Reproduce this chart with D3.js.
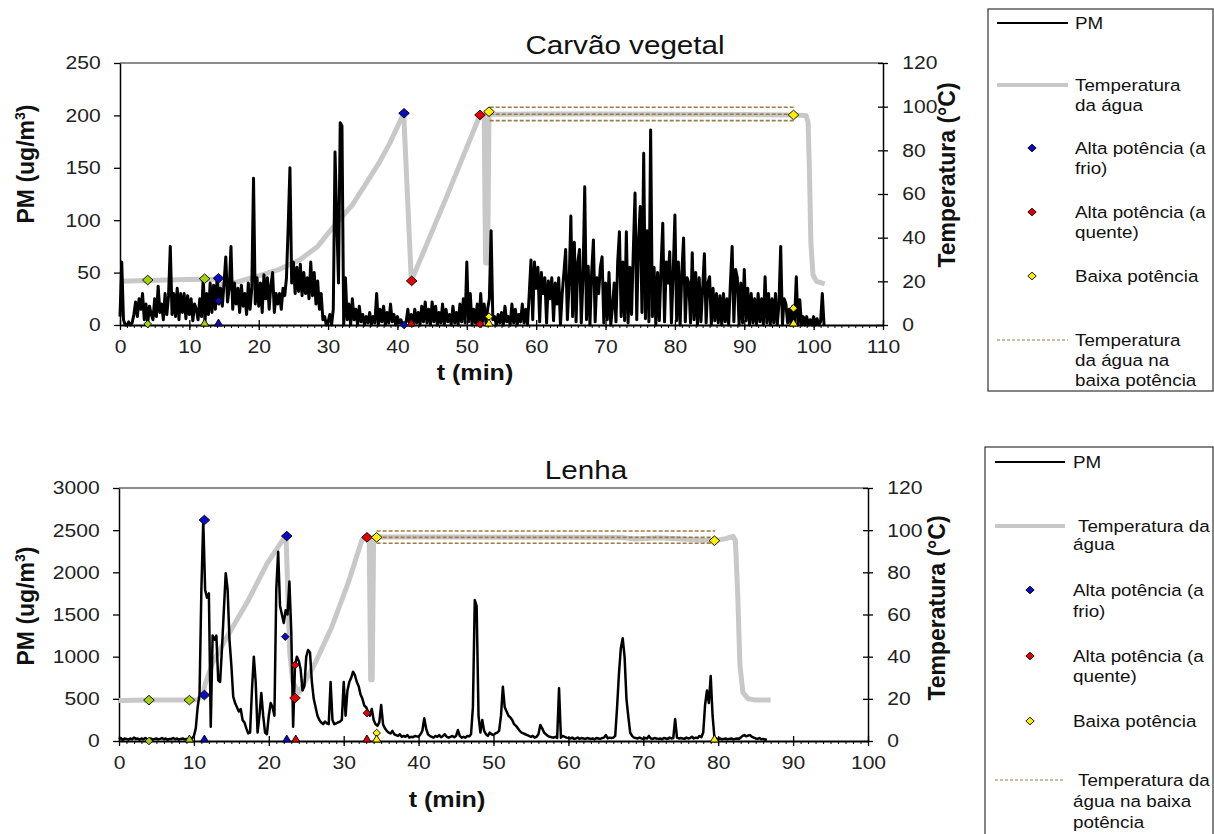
<!DOCTYPE html>
<html>
<head>
<meta charset="utf-8">
<script src="https://cdn.jsdelivr.net/npm/d3@7"></script>
<style>
  body { margin: 0; background: #fff; }
  svg { font-family: "Liberation Sans", Arial, sans-serif; }
</style>
</head>
<body>
<svg id="chart" width="1214" height="834"></svg>
<script>
// ---------------------------------------------------------------------------------------------
// dados
// PM (ug/m3) a cada 0,25 min, começando em t = 0
const pmPasso = 0.25;
const pmCarvao = [
  8, 60, 5, 0, 0, 3, 0, 2,
  10, 22, 8, 25, 15, 30, 5, 20,
  2, 18, 10, 5, 25, 8, 37, 12,
  20, 5, 30, 10, 28, 75, 10, 30,
  8, 35, 5, 30, 12, 30, 6, 28,
  10, 25, 4, 20, 15, 5, 25, 8,
  45, 3, 30, 10, 40, 12, 38, 15,
  45, 20, 35, 18, 40, 65, 22, 35,
  75, 15, 40, 20, 35, 12, 38, 18,
  30, 10, 40, 15, 35, 140, 20, 45,
  18, 40, 12, 48, 25, 45, 15, 38,
  50, 12, 30, 20, 30, 15, 35, 28,
  45, 95, 150, 40, 60, 30, 55, 32,
  58, 28, 50, 30, 45, 25, 60, 28,
  50, 20, 42, 15, 30, 5, 8, 0,
  3, 10, 0, 15, 165, 100, 40, 193,
  190, 0, 45, 5, 20, 0, 25, 5,
  15, 0, 18, 3, 10, 0, 8, 2,
  12, 0, 8, 2, 30, 0, 15, 3,
  18, 0, 12, 2, 20, 3, 10, 0,
  8, 2, 5, 0, 0, 3, 15, 0,
  10, 0, 15, 2, 12, 0, 18, 3,
  22, 2, 15, 0, 22, 3, 18, 0,
  12, 2, 20, 0, 15, 3, 10, 0,
  18, 2, 12, 0, 20, 3, 25, 2,
  60, 3, 30, 0, 15, 2, 20, 0,
  30, 3, 20, 2, 15, 25, 90, 5,
  8, 0, 10, 2, 12, 0, 18, 3,
  8, 0, 20, 2, 15, 0, 10, 3,
  20, 2, 15, 0, 30, 62, 5, 60,
  35, 55, 3, 50, 30, 45, 2, 42,
  25, 45, 4, 40, 20, 45, 0, 30,
  50, 72, 5, 40, 104, 8, 79, 3,
  60, 72, 2, 45, 132, 5, 56, 0,
  50, 81, 3, 45, 30, 55, 65, 2,
  40, 5, 50, 0, 17, 40, 3, 60,
  89, 8, 60, 4, 89, 2, 55, 10,
  70, 126, 5, 80, 113, 12, 164, 6,
  90, 3, 186, 8, 55, 0, 50, 4,
  55, 97, 3, 60, 40, 70, 2, 50,
  105, 4, 60, 0, 50, 83, 3, 45,
  40, 2, 69, 5, 50, 0, 45, 3,
  35, 68, 2, 40, 46, 0, 35, 4,
  30, 2, 28, 0, 30, 3, 25, 0,
  40, 75, 3, 53, 45, 0, 40, 2,
  53, 4, 35, 0, 30, 2, 25, 0,
  30, 3, 25, 0, 46, 2, 30, 0,
  25, 2, 30, 0, 20, 75, 0, 25,
  20, 2, 15, 0, 18, 3, 46, 0,
  24, 0, 8, 0, 8, 0, 5, 0,
  8, 0, 6, 0, 3, 30, 0
];
const pmLenha = [
  20, 35, 10, 30, 25, 15, 30, 20,
  40, 25, 30, 15, 30, 20, 35, 25,
  20, 30, 15, 25, 30, 20, 25, 35,
  20, 30, 15, 25, 25, 35, 20, 30,
  15, 25, 30, 20, 25, 20, 35, 30,
  60, 150, 400, 550, 1800, 2620, 1790, 1700,
  1750, 170, 1250, 1200, 1250, 720, 700, 1100,
  1553, 1990, 1800, 1200, 900, 525, 450, 400,
  350, 380, 250, 220, 150, 90, 100, 600,
  1000, 700, 100, 300, 570, 300, 100, 80,
  300, 450, 400, 300, 1800, 2245, 1600, 1500,
  1400, 1550, 1500, 1890, 1300, 170, 900, 1000,
  950, 850, 600, 650, 1000, 1080, 1050, 700,
  500, 400, 300, 250, 220, 200, 230, 210,
  200, 700, 250, 200, 210, 220, 230, 250,
  700, 300, 600, 700, 750, 822, 780, 700,
  650, 550, 500, 420, 400, 350, 300, 380,
  250, 200, 180, 220, 427, 200, 150, 120,
  100, 90, 120, 80, 70, 60, 80, 50,
  60, 50, 70, 40, 50, 45, 60, 55,
  50, 80, 120, 269, 150, 80, 60, 50,
  40, 60, 50, 70, 45, 60, 80, 50,
  40, 50, 60, 45, 60, 130, 60, 40,
  50, 40, 60, 55, 80, 400, 1672, 1600,
  300, 100, 250, 120, 80, 60, 100, 80,
  70, 90, 100, 120, 300, 644, 400, 350,
  300, 280, 250, 200, 180, 150, 120, 100,
  90, 80, 70, 60, 50, 60, 40, 50,
  80, 190, 150, 100, 80, 60, 50, 45,
  40, 50, 35, 625, 40, 60, 50, 40,
  35, 30, 40, 25, 30, 40, 25, 35,
  30, 25, 35, 30, 25, 30, 20, 35,
  30, 25, 35, 40, 71, 30, 40, 35,
  40, 60, 400, 800, 1100, 1218, 1000, 500,
  288, 100, 60, 40, 35, 30, 40, 30,
  25, 35, 30, 60, 30, 25, 35, 30,
  25, 30, 20, 35, 30, 25, 40, 30,
  35, 260, 40, 30, 35, 30, 25, 40,
  30, 35, 50, 30, 40, 35, 60, 45,
  100, 430, 600, 450, 771, 300, 40, 30,
  25, 30, 20, 25, 30, 20, 25, 30,
  20, 25, 30, 25, 40, 60, 70, 55,
  65, 70, 50, 40, 30, 25, 35, 20,
  25, 15, 20
];
// temperatura da água (°C): [t (min), valor]
const tempCarvao = [
  [0, 20], [4, 20.4], [8, 20.7], [12, 20.9], [14.2, 21], [14.4, 18.3], [16.3, 19.2],
  [20, 22.5], [23, 25.5], [25.9, 29.8], [28.5, 36], [31.2, 46.7], [33.5, 55], [35.5, 65],
  [37.3, 74], [38.9, 83.3], [40.9, 97], [42, 20.2], [47.1, 58.8], [51.9, 96.2],
  [52.5, 96], [52.7, 28.4], [53, 28.4], [53.2, 96.5], [60, 96.6], [70, 96.6], [80, 96.5],
  [90, 96.4], [97.1, 96.2], [98.9, 96], [99.2, 93], [99.4, 70], [99.6, 38], [99.9, 23],
  [100.4, 20], [101.6, 18.8]
];
const tempLenha = [
  [0, 19.2], [4, 19.4], [9.4, 19.4], [10.5, 19.6], [11.2, 22], [11.5, 27], [12.5, 37],
  [14.2, 48], [17.3, 67], [19.8, 84.4], [22.3, 97.6], [22.5, 75], [22.8, 42], [23.2, 28],
  [24, 22.8], [26.2, 37], [28.4, 54], [30.6, 75], [32.4, 95], [33.1, 97.2], [33.4, 97],
  [33.6, 29], [33.8, 29], [34, 96.8], [34.4, 96.8], [45, 96.7], [60, 96.6], [67, 96.5],
  [69, 95.8], [72, 96.4], [79.5, 95], [81, 96], [82, 97], [82.3, 95], [82.6, 70],
  [82.9, 36], [83.3, 23], [84, 20], [85, 19.4], [87, 19.4]
];
// temperatura da água na baixa potência (°C) e intervalo (min)
const baixaNiveisCarvao = [99.7, 96.5, 93.6];
const baixaIntervaloCarvao = [53.3, 97.1];
const baixaNiveisLenha = [99.6, 96.6, 93.8];
const baixaIntervaloLenha = [34.4, 79.6];
// marcadores na curva de temperatura: [t, °C, série]
const marcasTempCarvao = [
  [4, 20.6, 'verde'], [12.2, 21.2, 'verde'], [14.2, 21.4, 'azul'], [40.95, 97, 'azul'],
  [42.05, 20.2, 'vermelho'], [51.9, 96.2, 'vermelho'], [53.2, 97.7, 'amarelo'], [97.1, 96.2, 'amarelo']
];
const marcasTempLenha = [
  [4, 19.4, 'verde'], [9.4, 19.4, 'verde'], [11.4, 21.8, 'azul'], [22.4, 97.2, 'azul'],
  [33.1, 96.6, 'vermelho'], [34.4, 96.6, 'amarelo'], [79.5, 95, 'amarelo']
];
// marcadores grandes sobre o PM: [t, ug/m3, série]
const marcasPicoCarvao = [];
const marcasPicoLenha = [[11.4, 2620, 'azul'], [23.5, 510, 'vermelho']];
// marcadores pequenos sobre o PM: [t, ug/m3, série]
const marcasPMCarvao = [
  [4, 1, 'verde'], [14.2, 23, 'azul'], [40.95, 0, 'azul'], [51.9, 1, 'vermelho'],
  [53.2, 8, 'amarelo'], [97.1, 16, 'amarelo']
];
const marcasPMLenha = [
  [4, 0, 'verde'], [22.2, 1237, 'azul'], [23.5, 900, 'vermelho'], [33.1, 330, 'vermelho'],
  [34.4, 95, 'amarelo']
];
// triângulos no eixo (PM = 0): [t, série]
const marcasZeroCarvao = [[12.2, 'verde'], [14.2, 'azul'], [42, 'vermelho'], [53.2, 'amarelo'], [97.1, 'amarelo']];
const marcasZeroLenha = [
  [9.4, 'verde'], [11.4, 'azul'], [22.4, 'azul'], [23.6, 'vermelho'], [33.1, 'vermelho'],
  [34.4, 'amarelo'], [79.5, 'amarelo']
];
// legendas
const legendaCarvao = [
  ['PM'], ['Temperatura', 'da água'], ['Alta potência (a', 'frio)'], ['Alta potência (a', 'quente)'],
  ['Baixa potência'], ['Temperatura', 'da água na', 'baixa potência']
];
const legendaLenha = [
  ['PM'], ['Temperatura da', 'água'], ['Alta potência (a', 'frio)'], ['Alta potência (a', 'quente)'],
  ['Baixa potência'], ['Temperatura da', 'água na baixa', 'potência']
];
// ---------------------------------------------------------------------------------------------
const svg = d3.select('#chart');
const K = 1.14; // o texto da figura original é levemente esticado na horizontal
const cores = { verde: '#a6d10c', azul: '#0b0bc4', vermelho: '#e60000', amarelo: '#fff000' };
const cinza = '#c8c8c8';
const marrom = '#9e7a44';

function losango (w, h) {
  return `M0,${-h}L${w},0L0,${h}L${-w},0Z`;
}
function triangulo (w, h) {
  return `M0,${-h}L${w},${h * 0.75}L${-w},${h * 0.75}Z`;
}
function texto (sel, x, y, str, size, opts = {}) {
  return sel.append('text')
    .attr('transform', `translate(${x},${y}) scale(${K},1)`)
    .attr('font-size', size)
    .attr('font-weight', opts.bold ? 'bold' : null)
    .attr('text-anchor', opts.anchor || 'start')
    .attr('fill', '#111')
    .text(str);
}
function estiloEixo (sel, fs) {
  sel.attr('font-family', null).attr('font-size', fs);
  sel.select('.domain').attr('stroke', '#000').attr('stroke-width', 1.5);
  sel.selectAll('.tick line').attr('stroke', '#000').attr('stroke-width', 1.3);
  sel.selectAll('text').attr('fill', '#222').attr('transform', `scale(${K},1)`);
}

// gráfico ------------------------------------------------------------------------------------
function desenhaGrafico (c) {
  const x = d3.scaleLinear().domain([0, c.tMax]).range([c.left, c.right]);
  const yPM = d3.scaleLinear().domain([0, c.pmMax]).range([c.bottom, c.top]);
  const yT = d3.scaleLinear().domain([0, 120]).range([c.bottom, c.top]);
  const g = svg.append('g');

  g.append('line')
    .attr('x1', c.left).attr('x2', c.right)
    .attr('y1', c.top).attr('y2', c.top)
    .attr('stroke', '#666').attr('stroke-width', 1.5);

  // eixo x: traços menores a cada minuto
  g.append('g')
    .attr('transform', `translate(0,${c.bottom})`)
    .call(d3.axisBottom(x).tickValues(d3.range(0, c.tMax + 0.1, 1)).tickSize(3).tickFormat(''))
    .call(s => s.select('.domain').remove())
    .call(s => s.selectAll('line').attr('stroke', '#000'));
  const ax = g.append('g')
    .attr('transform', `translate(0,${c.bottom})`)
    .call(d3.axisBottom(x).tickValues(d3.range(0, c.tMax + 0.1, 10)).tickSize(5).tickPadding(10).tickSizeOuter(0))
    .call(s => estiloEixo(s, 18.5));
  ax.select('.domain').attr('stroke-width', 2);
  ax.selectAll('.tick line').attr('y1', -5);

  g.append('g')
    .attr('transform', `translate(${c.left},0)`)
    .call(d3.axisLeft(yPM).tickValues(d3.range(0, c.pmMax + 1, c.pmPassoEixo))
      .tickFormat(d3.format('d')).tickSize(6).tickPadding(11).tickSizeOuter(0))
    .call(s => estiloEixo(s, 18.5));

  const ar = g.append('g')
    .attr('transform', `translate(${c.right},0)`)
    .call(d3.axisRight(yT).tickValues(d3.range(0, 121, 20)).tickSize(5).tickPadding(12).tickSizeOuter(0))
    .call(s => estiloEixo(s, 18.5));
  ar.selectAll('.tick line').attr('x1', -5);

  // temperatura da água
  g.append('path')
    .datum(c.temp)
    .attr('d', d3.line().x(d => x(d[0])).y(d => yT(d[1])))
    .attr('fill', 'none')
    .attr('stroke', cinza)
    .attr('stroke-width', 5)
    .attr('stroke-linejoin', 'round');

  // temperatura na baixa potência
  g.selectAll('.baixa')
    .data(c.baixaNiveis)
    .enter()
    .append('line')
    .attr('class', 'baixa')
    .attr('x1', x(c.baixaIntervalo[0]))
    .attr('x2', x(c.baixaIntervalo[1]))
    .attr('y1', d => yT(d))
    .attr('y2', d => yT(d))
    .attr('stroke', marrom)
    .attr('stroke-width', 1.6)
    .attr('stroke-dasharray', '4,2');

  // PM
  g.append('path')
    .datum(c.pm)
    .attr('d', d3.line().x((d, i) => x(i * pmPasso)).y(d => yPM(d)))
    .attr('fill', 'none')
    .attr('stroke', '#000')
    .attr('stroke-width', c.pmLargura)
    .attr('stroke-linejoin', 'round');

  // marcadores
  const marca = (dados, fy, forma) => g.append('g')
    .selectAll('path')
    .data(dados)
    .enter()
    .append('path')
    .attr('transform', d => `translate(${x(d[0])},${fy(d)})`)
    .attr('d', forma)
    .attr('fill', d => cores[d[d.length - 1]])
    .attr('stroke', '#000')
    .attr('stroke-width', 0.9);
  marca(c.marcasPM, d => yPM(d[1]), losango(3.8, 3.8));
  marca(c.marcasZero, () => yPM(0) - 2, triangulo(4.2, 4));
  marca(c.marcasTemp, d => yT(d[1]), losango(5.3, 4.8));
  marca(c.marcasPico, d => yPM(d[1]), losango(5.3, 4.8));

  // textos
  texto(g, c.tituloX, c.tituloY, c.titulo, 26, { anchor: 'middle' });
  texto(g, c.xTituloX, c.xTituloY, 't (min)', 22, { anchor: 'middle', bold: true });
  const yl = g.append('text')
    .attr('transform', `translate(34,${c.yTituloY}) rotate(-90)`)
    .attr('text-anchor', 'middle')
    .attr('font-size', 23)
    .attr('font-weight', 'bold')
    .attr('fill', '#111');
  yl.append('tspan').text('PM (ug/m');
  yl.append('tspan').attr('font-size', 14).attr('dy', -9).text('3');
  yl.append('tspan').attr('dy', 9).text(')');
  g.append('text')
    .attr('transform', `translate(${c.rTituloX},${c.rTituloY}) rotate(-90)`)
    .attr('text-anchor', 'middle')
    .attr('font-size', 23)
    .attr('font-weight', 'bold')
    .attr('fill', '#111')
    .text('Temperatura (°C)');
}

// legenda ------------------------------------------------------------------------------------
function desenhaLegenda (c) {
  const g = svg.append('g');
  g.append('rect')
    .attr('x', c.x).attr('y', c.y)
    .attr('width', c.w).attr('height', c.h)
    .attr('fill', 'none').attr('stroke', '#333').attr('stroke-width', 1.2);
  const tipos = ['pm', 'temp', 'azul', 'vermelho', 'amarelo', 'baixa'];
  c.itens.forEach((linhas, i) => {
    const sy = c.simY[i];
    const tipo = tipos[i];
    if (tipo === 'pm' || tipo === 'temp' || tipo === 'baixa') {
      g.append('line')
        .attr('x1', c.linha[0]).attr('x2', c.linha[1])
        .attr('y1', sy).attr('y2', sy)
        .attr('stroke', tipo === 'pm' ? '#000' : tipo === 'temp' ? cinza : marrom)
        .attr('stroke-width', tipo === 'pm' ? 1.8 : tipo === 'temp' ? 4 : 1.2)
        .attr('stroke-dasharray', tipo === 'baixa' ? '3,2' : null);
    } else {
      g.append('path')
        .attr('transform', `translate(${c.simX},${sy})`)
        .attr('d', losango(4.2, 3.8))
        .attr('fill', cores[tipo])
        .attr('stroke', '#000')
        .attr('stroke-width', 0.9);
    }
    linhas.forEach((t, j) => {
      const dx = j === 0 ? (c.recuo[i] || 0) : 0;
      texto(g, c.textX + dx, sy + 6 + j * c.espaco[i], t, 16.5);
    });
  });
}

// ---------------------------------------------------------------------------------------------
desenhaGrafico({
  left: 120, right: 883, top: 63, bottom: 325,
  tMax: 110, pmMax: 250, pmPassoEixo: 50, pmLargura: 3,
  pm: pmCarvao, temp: tempCarvao,
  baixaNiveis: baixaNiveisCarvao, baixaIntervalo: baixaIntervaloCarvao,
  marcasTemp: marcasTempCarvao, marcasPico: marcasPicoCarvao,
  marcasPM: marcasPMCarvao, marcasZero: marcasZeroCarvao,
  titulo: 'Carvão vegetal', tituloX: 625, tituloY: 54,
  xTituloX: 475, xTituloY: 380, yTituloY: 164, rTituloX: 955, rTituloY: 175
});
desenhaGrafico({
  left: 119, right: 868, top: 488, bottom: 741,
  tMax: 100, pmMax: 3000, pmPassoEixo: 500, pmLargura: 2.5,
  pm: pmLenha, temp: tempLenha,
  baixaNiveis: baixaNiveisLenha, baixaIntervalo: baixaIntervaloLenha,
  marcasTemp: marcasTempLenha, marcasPico: marcasPicoLenha,
  marcasPM: marcasPMLenha, marcasZero: marcasZeroLenha,
  titulo: 'Lenha', tituloX: 586, tituloY: 479,
  xTituloX: 447, xTituloY: 807, yTituloY: 606, rTituloX: 945, rTituloY: 608
});
desenhaLegenda({
  x: 988, y: 9, w: 225, h: 382,
  linha: [997, 1068], simX: 1032, textX: 1075,
  simY: [23, 85, 148, 212, 276, 340],
  espaco: [20, 20, 20, 20, 20, 20], recuo: [],
  itens: legendaCarvao
});
desenhaLegenda({
  x: 985, y: 447, w: 228, h: 400,
  linha: [995, 1065], simX: 1030, textX: 1073,
  simY: [462, 526, 590, 656, 721, 780],
  espaco: [20, 18, 21, 20, 20, 21], recuo: [0, 5, 0, 0, 0, 5],
  itens: legendaLenha
});
</script>
</body>
</html>
